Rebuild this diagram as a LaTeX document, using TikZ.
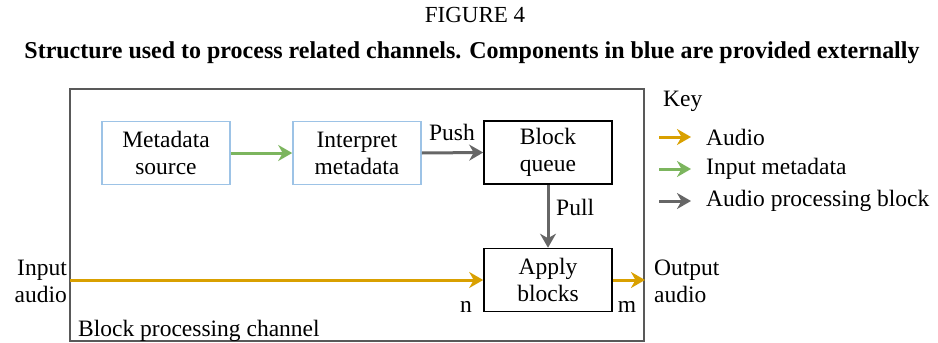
\documentclass[tikz,border=0pt]{standalone}
\usepackage{fontspec}
\setmainfont{Liberation Serif}
\usetikzlibrary{arrows.meta}
\definecolor{audiocol}{HTML}{D9A000}
\definecolor{metacol}{HTML}{7CB55E}
\definecolor{blockcol}{HTML}{666666}
\definecolor{extcol}{HTML}{9DC3E6}
\definecolor{framecol}{HTML}{595959}
\tikzset{
  txt/.style={font=\rmfamily\fontsize{23.5}{27}\selectfont, inner sep=0pt},
  proc/.style={draw=black, line width=1.6pt, minimum width=128pt, minimum height=63pt, align=center, txt},
  extproc/.style={proc, draw=extcol},
  flow/.style={line width=3pt, -{Stealth[length=14pt,width=16pt,inset=4.5pt]}},
  audioflow/.style={flow, draw=audiocol},
  metaflow/.style={flow, draw=metacol},
  blockflow/.style={flow, draw=blockcol},
}
\begin{document}
\begin{tikzpicture}[x=1pt,y=-1pt]
\useasboundingbox (0,0) rectangle (938,343);
% title and caption
\node[font=\rmfamily\fontsize{23}{26}\selectfont, inner sep=0pt] (fig) at (475,15) {FIGURE 4};
\node[inner sep=0pt] (cap) at (472,53) {\resizebox{895pt}{16.8pt}{\rmfamily\bfseries Structure used to process related channels. Components in blue are provided externally}};
% channel frame
\draw[framecol, line width=1.6pt] (70,89) rectangle (644,341);
\node[txt, anchor=base west] (chan) at (78,336) {Block processing channel};
% processing blocks
\node[extproc] (ms) at (166,153) {Metadata\\source};
\node[extproc] (im) at (357,153) {Interpret\\metadata};
\node[proc] (bq) at (548,152.5) {Block\\queue};
\node[proc] (ab) at (548,280) {Apply\\blocks};
% flows
\draw[metaflow] (ms.east) -- (im.west);
\draw[blockflow] (im.east) -- (bq.west);
\node[txt] (push) at (452,132) {Push};
\draw[blockflow] (bq.south) -- (ab.north);
\node[txt, anchor=west] (pull) at (556,207) {Pull};
\coordinate (inA) at (70,280);
\coordinate (outA) at (645,280);
\draw[audioflow] (inA) -- (ab.west);
\draw[audioflow] (ab.east) -- (outA);
\node[txt, align=right, anchor=east] (inlbl) at (67,281) {Input\\audio};
\node[txt, align=left, anchor=west] (outlbl) at (654,281) {Output\\audio};
\node[txt] (n) at (466,307) {n};
\node[txt] (m) at (627,307) {m};
% key
\node[txt, anchor=west] (key) at (663,101) {Key};
\coordinate (k1a) at (659,137); \coordinate (k1b) at (691,137);
\coordinate (k2a) at (659,169); \coordinate (k2b) at (691,169);
\coordinate (k3a) at (659,201); \coordinate (k3b) at (691,201);
\draw[audioflow] (k1a) -- (k1b);
\draw[metaflow] (k2a) -- (k2b);
\draw[blockflow] (k3a) -- (k3b);
\node[txt, anchor=west] (l1) at (706,137) {Audio};
\node[txt, anchor=west] (l2) at (706,169) {Input metadata};
\node[txt, anchor=west] (l3) at (706,201) {Audio processing block};
\end{tikzpicture}
\end{document}
